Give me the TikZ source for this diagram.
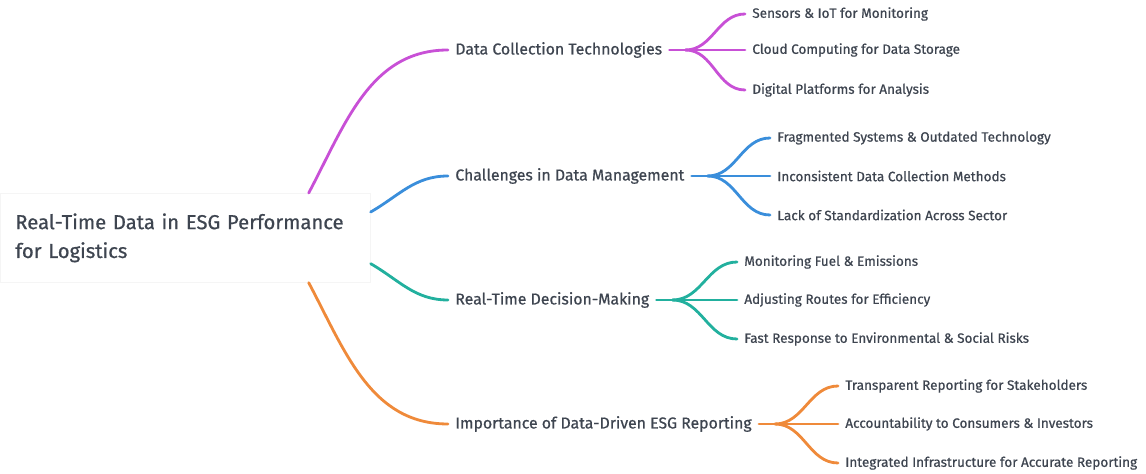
\documentclass[tikz,border=0pt]{standalone}
\usepackage{fontspec}
\setmainfont{Fira Sans}[FakeBold=0.7]
\usepackage{tikz}
\usetikzlibrary{positioning,calc}
\definecolor{mpurple}{HTML}{C850D6}
\definecolor{mblue}{HTML}{3A8EDB}
\definecolor{mteal}{HTML}{22B09E}
\definecolor{morange}{HTML}{EF8A3A}
\definecolor{mtext}{HTML}{3E4550}

\begin{document}
\begin{tikzpicture}[
  root/.style={draw=black!4, fill=white, anchor=north west, text width=6.8cm, inner xsep=0.3cm, inner ysep=0pt, minimum height=1.78cm, align=left, font=\fontsize{11.5}{16.4}\selectfont, text=mtext},
  topic/.style={anchor=west, inner sep=0.14cm, font=\fontsize{9}{10}\selectfont, text=mtext},
  leaf/.style={anchor=west, inner sep=0.14cm, font=\fontsize{7.7}{9}\selectfont, text=mtext},
  link/.style={line width=1.6pt, line cap=round}]
\useasboundingbox (0,0) rectangle (22.92,-9.48);
\node[root] (root) at (0,-3.86) {Real-Time Data in ESG Performance\\for Logistics};
% main topics
\node[topic] (b1) at (8.96,-1.00) {Data Collection Technologies};
\node[topic] (b2) at (8.96,-3.52) {Challenges in Data Management};
\node[topic] (b3) at (8.96,-6.00) {Real-Time Decision-Making};
\node[topic] (b4) at (8.96,-8.48) {Importance of Data-Driven ESG Reporting};
\draw[link, mpurple] ([xshift=-1.24cm]root.north east) to[out=62,in=180] (b1.west);
\draw[link, mblue] ([yshift=-0.38cm]root.north east) to[out=30,in=180] (b2.west);
\draw[link, mteal] ([yshift=0.38cm]root.south east) to[out=-30,in=180] (b3.west);
\draw[link, morange] ([xshift=-1.24cm]root.south east) to[out=-62,in=180] (b4.west);
% leaves
\node[leaf] (l11) at (14.90,-0.28) {Sensors \& IoT for Monitoring};
\node[leaf] (l12) at (14.90,-1.00) {Cloud Computing for Data Storage};
\node[leaf] (l13) at (14.90,-1.80) {Digital Platforms for Analysis};
\node[leaf] (l21) at (15.40,-2.76) {Fragmented Systems \& Outdated Technology};
\node[leaf] (l22) at (15.40,-3.52) {Inconsistent Data Collection Methods};
\node[leaf] (l23) at (15.40,-4.30) {Lack of Standardization Across Sector};
\node[leaf] (l31) at (14.74,-5.24) {Monitoring Fuel \& Emissions};
\node[leaf] (l32) at (14.74,-6.00) {Adjusting Routes for Efficiency};
\node[leaf] (l33) at (14.74,-6.78) {Fast Response to Environmental \& Social Risks};
\node[leaf] (l41) at (16.76,-7.72) {Transparent Reporting for Stakeholders};
\node[leaf] (l42) at (16.76,-8.48) {Accountability to Consumers \& Investors};
\node[leaf] (l43) at (16.76,-9.26) {Integrated Infrastructure for Accurate Reporting};
\coordinate (f1) at ([xshift=0.32cm]b1.east);
\coordinate (f2) at ([xshift=0.32cm]b2.east);
\coordinate (f3) at ([xshift=0.32cm]b3.east);
\coordinate (f4) at ([xshift=0.32cm]b4.east);
\draw[link, mpurple] (b1.east) -- (f1) -- (l12.west);
\draw[link, mpurple] (f1) to[out=0,in=180] (l11.west);
\draw[link, mpurple] (f1) to[out=0,in=180] (l13.west);
\draw[link, mblue] (b2.east) -- (f2) -- (l22.west);
\draw[link, mblue] (f2) to[out=0,in=180] (l21.west);
\draw[link, mblue] (f2) to[out=0,in=180] (l23.west);
\draw[link, mteal] (b3.east) -- (f3) -- (l32.west);
\draw[link, mteal] (f3) to[out=0,in=180] (l31.west);
\draw[link, mteal] (f3) to[out=0,in=180] (l33.west);
\draw[link, morange] (b4.east) -- (f4) -- (l42.west);
\draw[link, morange] (f4) to[out=0,in=180] (l41.west);
\draw[link, morange] (f4) to[out=0,in=180] (l43.west);
\end{tikzpicture}
\end{document}
